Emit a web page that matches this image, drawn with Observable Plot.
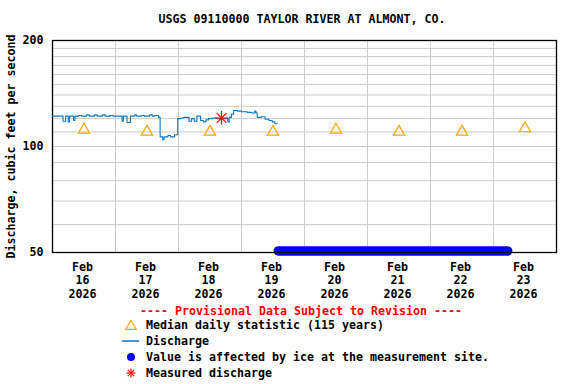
<!DOCTYPE html>
<html><head><meta charset="utf-8">
<script src="https://cdn.jsdelivr.net/npm/d3@7"></script>
<script src="https://cdn.jsdelivr.net/npm/@observablehq/plot@0.6"></script>
<style>
body{margin:0;background:#fff;}
#wrap{position:relative;width:576px;height:384px;font-family:"DejaVu Sans Mono",monospace;font-weight:bold;font-size:11.63px;color:#000;overflow:hidden;}
#title{height:30px;box-sizing:border-box;padding-top:12px;line-height:14px;width:604px;text-align:center;white-space:pre;}
#chart{height:270px;}
#chart svg{overflow:visible;}
#legend{position:relative;height:84px;}
.row{position:absolute;line-height:14px;white-space:pre;}
.icon{position:absolute;left:121px;width:20px;height:14px;}
</style></head>
<body><div id="wrap"><div id="title"></div><div id="chart"></div><div id="legend"></div></div>
<script>
const title = "USGS 09110000 TAYLOR RIVER AT ALMONT, CO.";
const yLabel = "Discharge, cubic feet per second";
const provisional = "---- Provisional Data Subject to Revision ----";
const monthLabel = "Feb";
const yearLabel = "2026";
const dayNumbers = [16, 17, 18, 19, 20, 21, 22, 23];
const medianValues = [111.5, 110, 110, 110, 111.5, 110, 110, 112.5];
const yTicks = [50, 100, 200];
const yGrid = [60, 70, 80, 90, 100, 110, 120, 130, 140, 150, 160, 170, 180, 190];
// hours after Feb 16 2026 00:00, and discharge (ft3/s)
const dischargeHours = [0, 2, 4, 5, 6, 6.5, 8, 8.5, 10, 11, 13, 14, 16, 17, 19, 20, 22, 23, 24, 26.5, 27, 28.4, 29.7, 31.4, 32, 34, 35, 37, 38, 39, 40.4, 41, 42, 42.5, 44, 45, 46.5, 47.7, 49, 50, 52, 53, 54, 55, 56.4, 57.5, 58.5, 59.4, 61, 62.7, 66.8, 67.3, 68.2, 69, 70.4, 72, 74.2, 76, 77, 77.5, 78, 79.5, 81, 82.5, 83.7, 84.7, 85.6];
const dischargeValues = [122, 122, 118, 122, 117.5, 122, 118.5, 122, 122.5, 122, 123, 122, 123, 122, 123, 122, 122.5, 122, 122, 118, 122, 117, 122, 123, 122, 122.5, 122, 123, 122, 122.5, 121, 106.5, 104.5, 106.5, 107.5, 106.5, 108, 120, 120.5, 121, 118, 120, 118, 122, 118.5, 117.5, 119, 120, 120.5, 120, 117.5, 121, 123.5, 126.5, 126, 125.5, 125, 124.5, 126, 124.5, 121, 121.5, 119.5, 118.5, 117.5, 116, 116];
const measuredHours = [64.4];
const measuredValues = [120.5];
const iceHours = [86, 173.4];
const iceValues = [50.5, 50.5];
const legendLabels = ["Median daily statistic (115 years)", "Discharge", "Value is affected by ice at the measurement site.", "Measured discharge"];

const t0 = Date.UTC(2026, 1, 16);
const hourDate = h => new Date(t0 + h * 3600e3);
const dayStart = i => new Date(t0 + i * 86400e3);
const noons = dayNumbers.map((d, i) => new Date(t0 + (i + 0.5) * 86400e3));
const midnights = dayNumbers.slice(1).map((d, i) => dayStart(i + 1));
const discharge = dischargeHours.map((h, i) => ({date: hourDate(h), value: dischargeValues[i]}));
const medians = noons.map((d, i) => ({date: d, value: medianValues[i]}));
const measured = measuredHours.map((h, i) => ({date: hourDate(h), value: measuredValues[i]}));
const ice = iceHours.map((h, i) => ({date: hourDate(h), value: iceValues[i]}));
const labelFor = new Map(noons.map((d, i) => [+d, `${monthLabel}\n${dayNumbers[i]}\n${yearLabel}`]));

document.getElementById("title").textContent = title;

const chart = Plot.plot({
  width: 576, height: 270,
  marginLeft: 52, marginRight: 20, marginTop: 10, marginBottom: 48,
  style: {fontFamily: "DejaVu Sans Mono, monospace", fontSize: "11.63px", fontWeight: "bold", color: "#000", background: "#fff", overflow: "visible"},
  x: {type: "utc", domain: [dayStart(0), dayStart(8)]},
  y: {type: "log", domain: [50, 200]},
  marks: [
    Plot.gridY(yGrid, {stroke: "#cccccc", strokeOpacity: 1}),
    Plot.gridX(midnights, {stroke: "#cccccc", strokeOpacity: 1}),
    Plot.line(ice, {x: "date", y: "value", stroke: "#0000ff", strokeWidth: 9.5, strokeLinecap: "round"}),
    Plot.frame({stroke: "#000", strokeWidth: 1.3}),
    Plot.line(discharge, {x: "date", y: "value", stroke: "#0a78c8", strokeWidth: 1.1, curve: "step-after"}),
    Plot.dot(medians, {x: "date", y: "value", symbol: "triangle", r: 4.2, stroke: "#ffa500", fill: "none", strokeWidth: 1.2}),
    Plot.dot(measured, {x: "date", y: "value", symbol: "plus", r: 4.5, stroke: "#ff0000", strokeWidth: 1.2}),
    Plot.dot(measured, {x: "date", y: "value", symbol: "times", r: 4.5, stroke: "#ff0000", strokeWidth: 1.2}),
    Plot.axisY({ticks: yTicks, tickSize: 0, tickPadding: 9, tickFormat: d => String(d), label: null}),
    Plot.axisX({ticks: noons, tickSize: 0, tickPadding: 9, dx: -1.5, tickFormat: d => labelFor.get(+d), lineHeight: 1.15, label: null}),
    Plot.text([yLabel], {frameAnchor: "left", textAnchor: "middle", lineAnchor: "middle", dx: -41, rotate: -90, text: d => d})
  ]
});
document.getElementById("chart").append(chart);

const legend = document.getElementById("legend");
const red = document.createElement("div");
red.className = "row"; red.style.left = "140px"; red.style.top = "4px"; red.style.color = "#ff0000";
red.textContent = provisional;
legend.append(red);
const icons = [
  '<polygon points="10,2.5 15.3,11.3 4.7,11.3" fill="none" stroke="#ffa500" stroke-width="1.2"/>',
  '<line x1="1" x2="18" y1="7" y2="7" stroke="#0a78c8" stroke-width="1.5"/>',
  '<circle cx="10" cy="7" r="4" fill="#0000ff"/>',
  '<g stroke="#ff0000" stroke-width="1.2"><line x1="10" x2="10" y1="2.5" y2="11.5"/><line x1="5.5" x2="14.5" y1="7" y2="7"/><line x1="6.8" x2="13.2" y1="3.8" y2="10.2"/><line x1="6.8" x2="13.2" y1="10.2" y2="3.8"/></g>'
];
legendLabels.forEach((lab, i) => {
  const top = 18 + i * 16;
  const ic = document.createElementNS("http://www.w3.org/2000/svg", "svg");
  ic.setAttribute("class", "icon"); ic.setAttribute("width", 20); ic.setAttribute("height", 14);
  ic.style.top = top + "px";
  ic.innerHTML = icons[i];
  legend.append(ic);
  const r = document.createElement("div");
  r.className = "row"; r.style.left = "146px"; r.style.top = top + "px";
  r.textContent = lab;
  legend.append(r);
});
</script>
</body></html>
